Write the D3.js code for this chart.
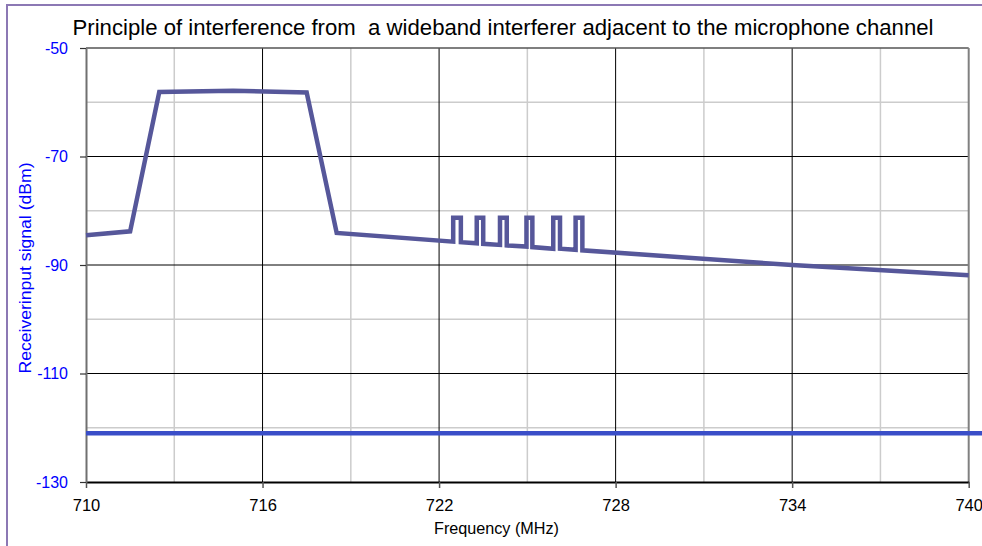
<!DOCTYPE html>
<html>
<head>
<meta charset="utf-8">
<script src="https://cdn.jsdelivr.net/npm/d3@7/dist/d3.min.js"></script>
<style>
  html, body { margin: 0; padding: 0; background: #fff; }
  svg { display: block; font-family: "Liberation Sans", Arial, sans-serif; }
</style>
</head>
<body>
<svg id="chart" width="982" height="546"></svg>
<script>
// Interferer spectrum: wideband block, then a sloping floor with six narrow mic carriers
const traceFreq = [
  710, 711.5, 712.49, 715.0, 717.5, 718.52,
  722.48, 722.48, 722.74, 722.74,
  723.28, 723.28, 723.50, 723.50,
  724.07, 724.07, 724.30, 724.30,
  724.97, 724.97, 725.17, 725.17,
  725.88, 725.88, 726.11, 726.11,
  726.64, 726.64, 726.87, 726.87,
  734, 740
];
const traceLevel = [
  -84.5, -83.8, -58.1, -57.9, -58.2, -84.1,
  -85.7, -81.3, -81.3, -85.8,
  -86.0, -81.3, -81.3, -86.1,
  -86.3, -81.3, -81.3, -86.4,
  -86.6, -81.3, -81.3, -86.7,
  -87.0, -81.3, -81.3, -87.0,
  -87.2, -81.3, -81.3, -87.3,
  -90.0, -91.9
];

// Receiver sensitivity floor
const floorFreq = [710, 740.5];
const floorLevel = [-121, -121];

// Axis ticks and grid positions
const xTicks = [710, 716, 722, 728, 734, 740];
const xMajorGrid = [716, 722, 728, 734];
const xMinorGrid = [713, 719, 725, 731, 737];
const yTicks = [-50, -70, -90, -110, -130];
const yMajorGrid = [-70, -90, -110];
const yMinorGrid = [-60, -80, -100, -120];

const titleText = "Principle of interference from  a wideband interferer adjacent to the microphone channel";
const xTitle = "Frequency (MHz)";
const yTitle = "Receiverinput signal (dBm)";

const svg = d3.select("#chart");

// Outer frame
svg.append("rect")
  .attr("x", 7).attr("y", 5)
  .attr("width", 1000).attr("height", 600)
  .attr("fill", "#fff")
  .attr("stroke", "#8c78b4")
  .attr("stroke-width", 2);

const x = d3.scaleLinear().domain([710, 740]).range([86, 968.7]);
const y = d3.scaleLinear().domain([-130, -50]).range([482, 48]);

const grid = svg.append("g");

// Minor grid
grid.selectAll(".vminor").data(xMinorGrid).join("line")
  .attr("x1", d => x(d)).attr("x2", d => x(d))
  .attr("y1", y(-50)).attr("y2", y(-130))
  .attr("stroke", "#cccccc").attr("stroke-width", 1.5);
grid.selectAll(".hminor").data(yMinorGrid).join("line")
  .attr("x1", x(710)).attr("x2", x(740))
  .attr("y1", d => y(d)).attr("y2", d => y(d))
  .attr("stroke", "#cccccc").attr("stroke-width", 1.5);

// Major grid
grid.selectAll(".vmajor").data(xMajorGrid).join("line")
  .attr("x1", d => x(d)).attr("x2", d => x(d))
  .attr("y1", y(-50)).attr("y2", y(-130))
  .attr("stroke", "#000").attr("stroke-width", 1);
grid.selectAll(".hmajor").data(yMajorGrid).join("line")
  .attr("x1", x(710)).attr("x2", x(740))
  .attr("y1", d => y(d)).attr("y2", d => y(d))
  .attr("stroke", "#000").attr("stroke-width", 1);

// Plot border (top and right)
svg.append("line")
  .attr("x1", x(710)).attr("x2", x(740))
  .attr("y1", y(-50)).attr("y2", y(-50))
  .attr("stroke", "#555").attr("stroke-width", 1.5);
svg.append("line")
  .attr("x1", x(740)).attr("x2", x(740))
  .attr("y1", y(-50)).attr("y2", y(-130))
  .attr("stroke", "#808080").attr("stroke-width", 2);

// Axes (plain hyphen-minus in labels)
const plain = d => String(d);

const xAxis = svg.append("g")
  .attr("transform", `translate(0,${y(-130)})`)
  .call(d3.axisBottom(x).tickValues(xTicks).tickFormat(plain).tickSize(6).tickPadding(11).tickSizeOuter(0));
xAxis.select(".domain").attr("stroke", "#000").attr("stroke-width", 2);
xAxis.selectAll(".tick line").attr("stroke", "#555").attr("stroke-width", 1.5);
xAxis.selectAll(".tick text")
  .attr("fill", "#000")
  .style("font-size", "16.5px")
  .style("font-family", "'Liberation Sans', Arial, sans-serif");

const yAxis = svg.append("g")
  .attr("transform", `translate(${x(710)},0)`)
  .call(d3.axisLeft(y).tickValues(yTicks).tickFormat(plain).tickSize(6).tickPadding(12).tickSizeOuter(0));
yAxis.select(".domain").attr("stroke", "#707070").attr("stroke-width", 2);
yAxis.selectAll(".tick line").attr("stroke", "#333").attr("stroke-width", 1.2);
yAxis.selectAll(".tick text")
  .attr("fill", "#0000ff")
  .style("font-size", "16px")
  .style("font-family", "'Liberation Sans', Arial, sans-serif");

// Series
const line = d3.line().x(d => x(d[0])).y(d => y(d[1]));

svg.append("path")
  .datum(floorFreq.map((f, i) => [f, floorLevel[i]]))
  .attr("d", line)
  .attr("fill", "none")
  .attr("stroke", "#3a4ec8")
  .attr("stroke-width", 4.5);

svg.append("path")
  .datum(traceFreq.map((f, i) => [f, traceLevel[i]]))
  .attr("d", line)
  .attr("fill", "none")
  .attr("stroke", "#56579a")
  .attr("stroke-width", 4.5)
  .attr("stroke-linejoin", "miter")
  .attr("stroke-miterlimit", 10);

// Titles
svg.append("text")
  .attr("x", 503).attr("y", 35)
  .attr("text-anchor", "middle")
  .attr("textLength", 861)
  .attr("lengthAdjust", "spacingAndGlyphs")
  .style("font-size", "22px")
  .style("white-space", "pre")
  .attr("fill", "#000")
  .text(titleText);

svg.append("text")
  .attr("x", 496.5).attr("y", 534)
  .attr("text-anchor", "middle")
  .attr("textLength", 125)
  .attr("lengthAdjust", "spacingAndGlyphs")
  .style("font-size", "17px")
  .attr("fill", "#000")
  .text(xTitle);

svg.append("text")
  .attr("transform", "translate(31,268) rotate(-90)")
  .attr("text-anchor", "middle")
  .attr("textLength", 211)
  .attr("lengthAdjust", "spacingAndGlyphs")
  .style("font-size", "16px")
  .attr("fill", "#0000ff")
  .text(yTitle);
</script>
</body>
</html>
